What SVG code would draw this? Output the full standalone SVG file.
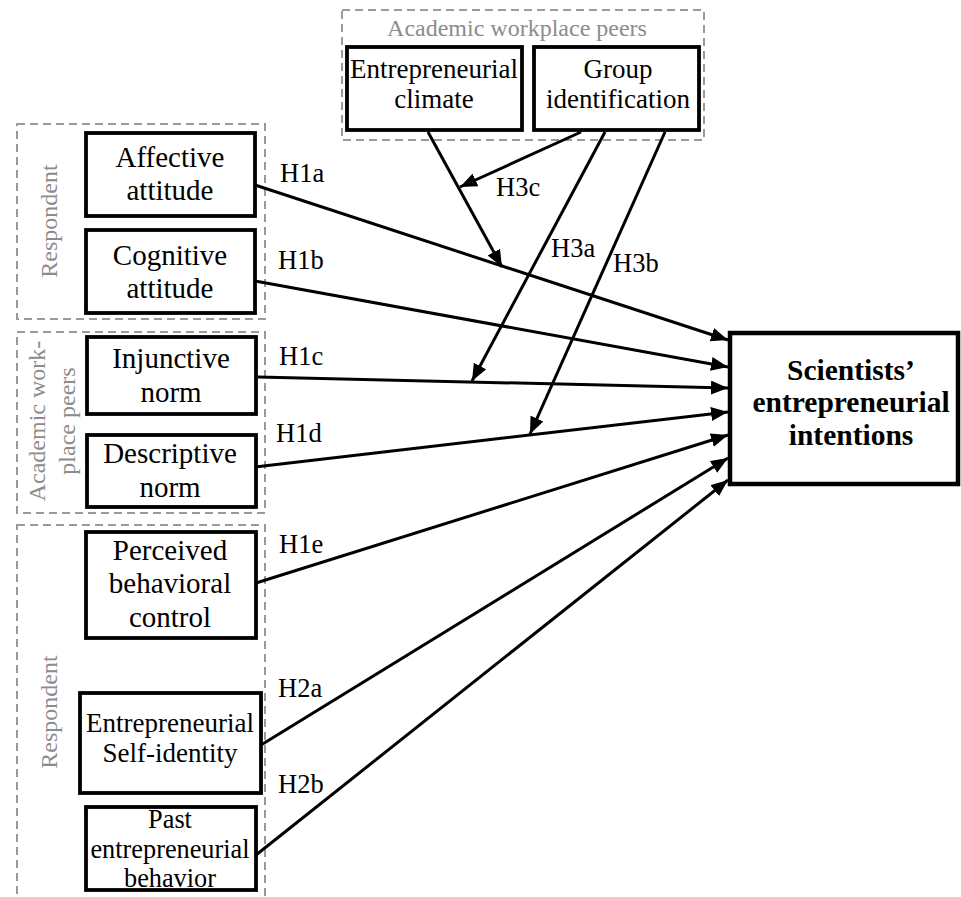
<svg xmlns="http://www.w3.org/2000/svg" width="961" height="897" viewBox="0 0 961 897">
<style>
.grp{fill:none;stroke:#9a9a9a;stroke-width:2;stroke-dasharray:8,5}
.glab{font-family:"Liberation Serif","Times New Roman",serif;font-size:24px;fill:#8c8c8c;text-anchor:middle}
.box{fill:#fff;stroke:#000;stroke-width:3.8}
.t{font-family:"Liberation Serif","Times New Roman",serif;font-size:29px;fill:#000;text-anchor:middle}
.t27{font-size:27px}
.t26{font-size:26.3px}
.h{font-family:"Liberation Serif","Times New Roman",serif;font-size:26.5px;fill:#000}
.tb{font-family:"Liberation Serif","Times New Roman",serif;font-size:29.5px;font-weight:bold;fill:#000;text-anchor:middle}
.c{stroke:#000;stroke-width:3;fill:none;marker-end:url(#ah)}
</style>
<defs>
<marker id="ah" markerUnits="userSpaceOnUse" markerWidth="17" markerHeight="14" refX="17" refY="7" orient="auto">
<path d="M0,0 L17,7 L0,14 z" fill="#000"/>
</marker>
</defs>
<rect width="961" height="897" fill="#fff"/>
<g id="groups">
<rect class="grp" x="342" y="10" width="362" height="130"/>
<text class="glab" x="517" y="36">Academic workplace peers</text>
<rect class="grp" x="17" y="124" width="248" height="195"/>
<text class="glab" transform="translate(57,221) rotate(-90)">Respondent</text>
<rect class="grp" x="17" y="332" width="248" height="181"/>
<text class="glab" transform="translate(45,421) rotate(-90)">Academic work-</text>
<text class="glab" transform="translate(75,421) rotate(-90)">place peers</text>
<rect class="grp" x="17" y="525" width="248" height="385"/>
<text class="glab" transform="translate(57,712) rotate(-90)">Respondent</text>
</g>
<g id="connectors">
<line class="c" x1="255" y1="185" x2="728" y2="340"/>
<line class="c" x1="255" y1="281" x2="728" y2="367"/>
<line class="c" x1="258" y1="377" x2="728" y2="388"/>
<line class="c" x1="255" y1="467" x2="728" y2="412"/>
<line class="c" x1="256" y1="583" x2="728" y2="435"/>
<line class="c" x1="261" y1="745" x2="728" y2="458"/>
<line class="c" x1="256" y1="855" x2="728" y2="480"/>
<line class="c" x1="428" y1="132" x2="502" y2="267"/>
<line class="c" x1="581" y1="132" x2="460" y2="187"/>
<line class="c" x1="605" y1="132" x2="472" y2="381"/>
<line class="c" x1="665" y1="132" x2="530" y2="434"/>
<text class="h" x="280" y="182">H1a</text>
<text class="h" x="278" y="269">H1b</text>
<text class="h" x="279" y="365">H1c</text>
<text class="h" x="276" y="442">H1d</text>
<text class="h" x="279" y="553">H1e</text>
<text class="h" x="278" y="697">H2a</text>
<text class="h" x="278" y="793">H2b</text>
<text class="h" x="496" y="196">H3c</text>
<text class="h" x="551" y="257">H3a</text>
<text class="h" x="613" y="272">H3b</text>
</g>
<g id="climate">
<rect class="box" x="347" y="47" width="175" height="83"/>
<text class="t t27" x="434" y="78">Entrepreneurial</text>
<text class="t t27" x="434" y="108">climate</text>
</g>
<g id="groupid">
<rect class="box" x="534" y="47" width="165" height="83"/>
<text class="t t27" x="618" y="78">Group</text>
<text class="t t27" x="618" y="108">identification</text>
</g>
<g id="affective">
<rect class="box" x="86" y="133" width="169" height="83"/>
<text class="t" x="170" y="167">Affective</text>
<text class="t" x="170" y="200">attitude</text>
</g>
<g id="cognitive">
<rect class="box" x="86" y="230" width="169" height="83"/>
<text class="t" x="170" y="265">Cognitive</text>
<text class="t" x="170" y="298">attitude</text>
</g>
<g id="injunctive">
<rect class="box" x="87" y="337" width="169" height="77"/>
<text class="t" x="171" y="368">Injunctive</text>
<text class="t" x="171" y="402">norm</text>
</g>
<g id="descriptive">
<rect class="box" x="87" y="435" width="169" height="72"/>
<text class="t" x="170" y="463">Descriptive</text>
<text class="t" x="170" y="497">norm</text>
</g>
<g id="pbc">
<rect class="box" x="86" y="532" width="170" height="106"/>
<text class="t" x="170" y="560">Perceived</text>
<text class="t" x="170" y="593">behavioral</text>
<text class="t" x="170" y="627">control</text>
</g>
<g id="selfid">
<rect class="box" x="80" y="693" width="181" height="100"/>
<text class="t t27" x="170" y="732">Entrepreneurial</text>
<text class="t t27" x="170" y="762">Self-identity</text>
</g>
<g id="past">
<rect class="box" x="86" y="807" width="170" height="83"/>
<text class="t t26" x="170" y="828">Past</text>
<text class="t t26" x="170" y="858">entrepreneurial</text>
<text class="t t26" x="170" y="887">behavior</text>
</g>
<g id="intentions">
<rect x="730" y="333" width="228" height="151" fill="#fff" stroke="#000" stroke-width="4.5"/>
<text class="tb" x="851" y="380">Scientists’</text>
<text class="tb" x="851" y="412">entrepreneurial</text>
<text class="tb" x="851" y="445">intentions</text>
</g>
</svg>
